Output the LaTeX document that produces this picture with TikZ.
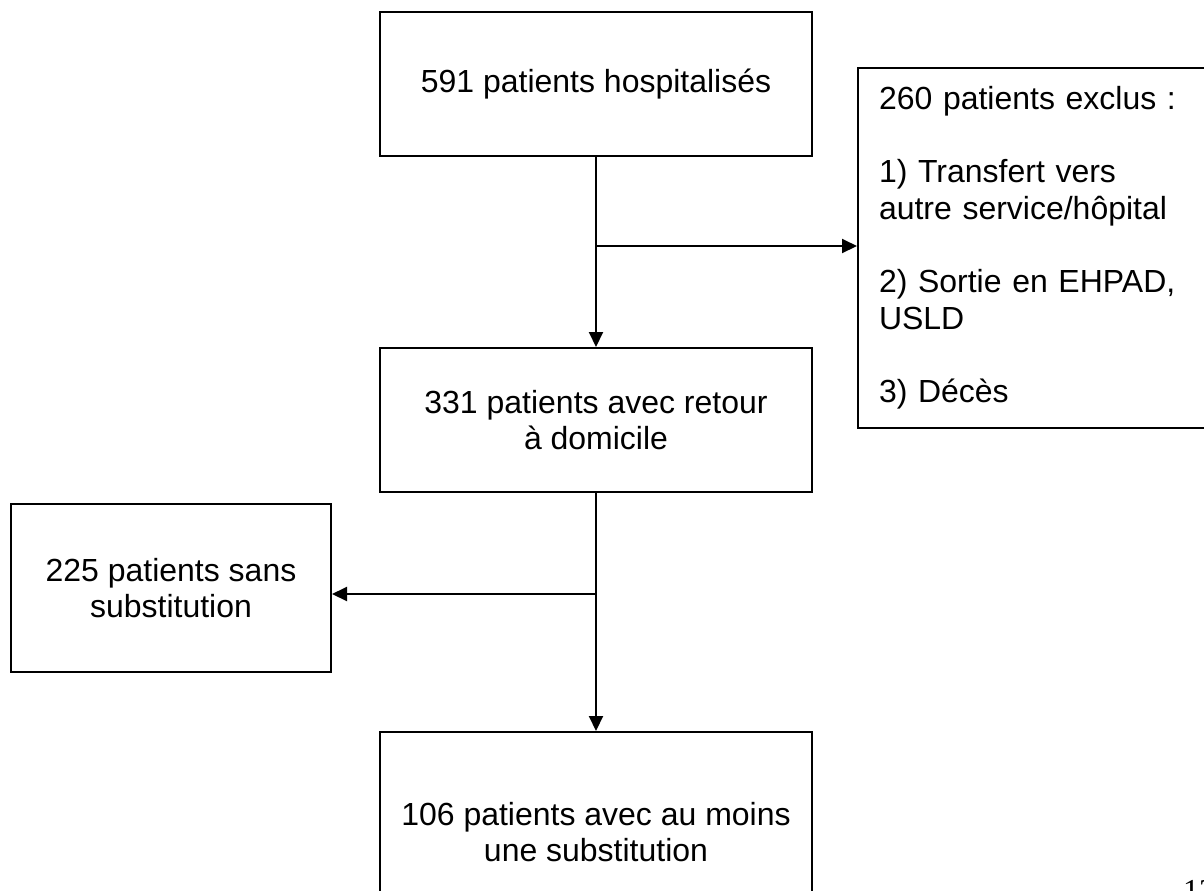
\documentclass[tikz,border=0pt]{standalone}
\usepackage{fontspec}
\setmainfont{Liberation Sans}
\newfontfamily\pagefont{Liberation Serif}
\usetikzlibrary{arrows.meta,positioning}

\tikzset{
  box/.style={draw, line width=0.6mm, inner sep=0pt, align=center,
              font=\fontsize{27.3}{31.3}\selectfont},
  flow/.style={line width=0.6mm, -{Triangle[length=4.5mm,width=4.2mm]}},
}

\begin{document}
\begin{tikzpicture}[x=0.3mm,y=-0.3mm]
  \useasboundingbox (0,0) rectangle (1204,890);

  % main column              size                                      centre
  \node[box,minimum width=129.6mm,minimum height=43.2mm] (hosp) at (596,84)
       {591 patients hospitalisés};
  \node[box,minimum width=129.6mm,minimum height=43.2mm] (dom)  at (596,420)
       {331 patients avec retour\\à domicile};
  \node[box,minimum width=129.6mm,minimum height=60mm]   (subst) at (596,832)
       {106 patients avec au moins\\une substitution};

  % side boxes
  \node[box,minimum width=114mm,minimum height=108mm,text width=101.4mm,
        inner xsep=6.3mm,align=left] (excl) at (1048,248)
       {260 patients exclus :\\[\baselineskip]
        1) Transfert vers\\autre service/hôpital\\[\baselineskip]
        2) Sortie en EHPAD,\\USLD\\[\baselineskip]
        3) Décès};
  \node[box,minimum width=96mm,minimum height=50.4mm] (sans) at (171,588)
       {225 patients sans\\substitution};

  % branch points on the vertical lines
  \coordinate (b1) at (596,246);
  \coordinate (b2) at (596,594);

  % connectors
  \draw[flow] (hosp.south) -- (dom.north);
  \draw[flow] (b1) -- (excl.west |- b1);
  \draw[flow] (dom.south) -- (subst.north);
  \draw[flow] (b2) -- (sans.east |- b2);

  % page number, cut by the page edge
  \node[anchor=base west,inner sep=0pt,font=\pagefont\fontsize{27.3}{31.3}\selectfont] (pg) at (1183,901) {12};
\end{tikzpicture}
\end{document}
